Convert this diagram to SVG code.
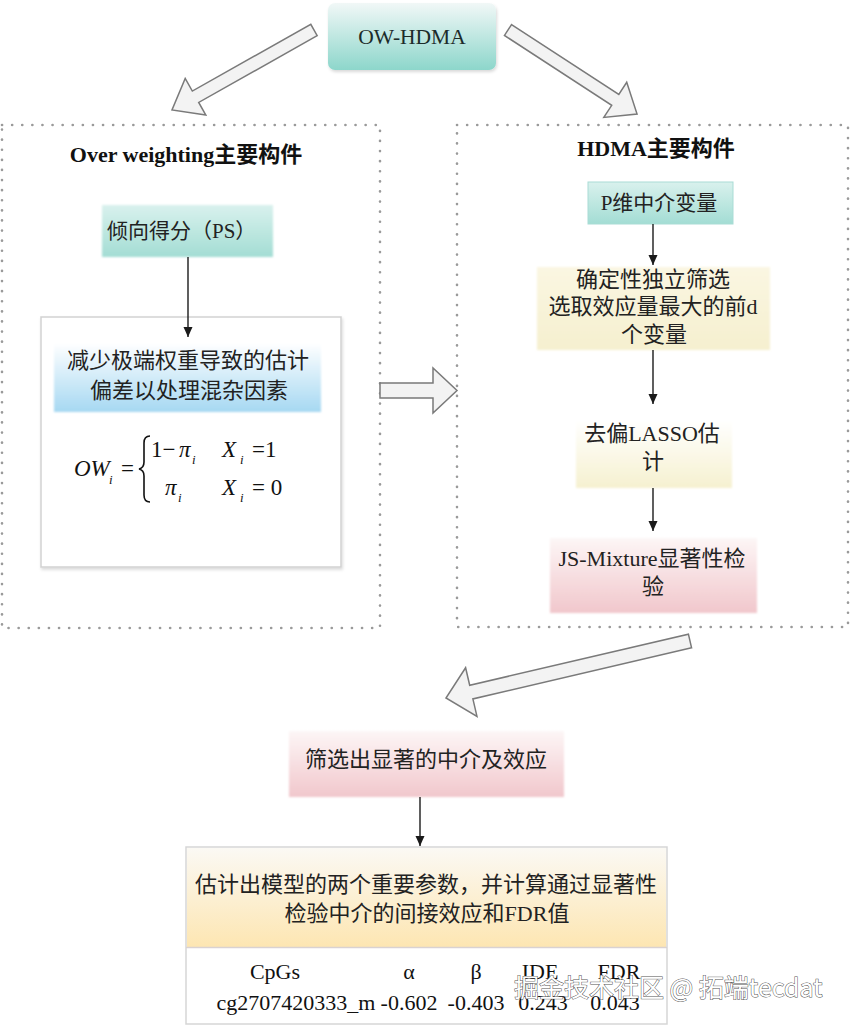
<svg xmlns="http://www.w3.org/2000/svg" width="851" height="1028" viewBox="0 0 851 1028">
  <defs>
    <linearGradient id="gTealTop" x1="0" y1="0" x2="0" y2="1">
      <stop offset="0" stop-color="#f1f8f7"/>
      <stop offset="1" stop-color="#8dd6cb"/>
    </linearGradient>
    <linearGradient id="gTeal" x1="0" y1="0" x2="0" y2="1">
      <stop offset="0" stop-color="#d9f1ed"/>
      <stop offset="1" stop-color="#a3ddd4"/>
    </linearGradient>
    <linearGradient id="gBlue" x1="0" y1="0" x2="0" y2="1">
      <stop offset="0" stop-color="#ffffff"/>
      <stop offset="1" stop-color="#a6d8f2"/>
    </linearGradient>
    <linearGradient id="gYellow" x1="0" y1="0" x2="0" y2="1">
      <stop offset="0" stop-color="#faf6e2"/>
      <stop offset="1" stop-color="#f6f0cf"/>
    </linearGradient>
    <linearGradient id="gYellow2" x1="0" y1="0" x2="0" y2="1">
      <stop offset="0" stop-color="#ffffff"/>
      <stop offset="1" stop-color="#f6f1d0"/>
    </linearGradient>
    <linearGradient id="gPink" x1="0" y1="0" x2="0" y2="1">
      <stop offset="0" stop-color="#fdf6f6"/>
      <stop offset="1" stop-color="#f1c7cc"/>
    </linearGradient>
    <linearGradient id="gOrange" x1="0" y1="0" x2="0" y2="1">
      <stop offset="0" stop-color="#fbf9f4"/>
      <stop offset="1" stop-color="#fde6b2"/>
    </linearGradient>
    <filter id="soft" x="-5%" y="-10%" width="110%" height="120%">
      <feGaussianBlur stdDeviation="1.2"/>
    </filter>
    <filter id="shadow" x="-5%" y="-10%" width="115%" height="125%">
      <feDropShadow dx="1" dy="2" stdDeviation="1.5" flood-color="#000" flood-opacity="0.15"/>
    </filter>
    <marker id="ah" viewBox="0 0 10 10" refX="10" refY="5" markerWidth="10" markerHeight="10" markerUnits="userSpaceOnUse" orient="auto">
      <path d="M0,0.5 L10,5 L0,9.5 Z" fill="#1a1a1a"/>
    </marker>
    <style>
      .cn { font-family: "Liberation Serif", "Noto Sans CJK SC", sans-serif; fill: #222; }
      .t22 { font-size: 22px; }
      .title { font-family: "Liberation Serif", "Noto Sans CJK SC", serif; font-weight: bold; font-size: 22px; fill: #111; }
      .math { font-family: "Liberation Serif", serif; font-size: 23px; fill: #111; }
      .it { font-style: italic; }
      .sub { font-family: "Liberation Serif", serif; font-style: italic; font-size: 13px; fill: #111; }
      .dotted { fill: none; stroke: #9a9a9a; stroke-width: 2.6; stroke-dasharray: 0.1 10; stroke-linecap: round; }
      .hollow { fill: #f3f3f3; stroke: #7a7a7a; stroke-width: 1.5; stroke-linejoin: miter; }
      .conn { fill: none; stroke: #1a1a1a; stroke-width: 1.4; }
      .tbl { font-family: "Liberation Serif", serif; font-size: 22px; fill: #111; }
      .wm { font-family: "Noto Sans CJK SC", "Noto Sans", sans-serif; font-size: 25px; fill: #ffffff; stroke: #555; stroke-width: 1; paint-order: stroke; }
    </style>
  </defs>

  <rect width="851" height="1028" fill="#ffffff"/>

  <!-- containers -->
  <g id="group-ow">
    <rect class="dotted" x="2" y="125" width="378" height="503"/>
    <text class="title" x="186" y="162" text-anchor="middle">Over weighting主要构件</text>
  </g>
  <g id="group-hdma">
    <rect class="dotted" x="457" y="125" width="391" height="502"/>
    <text class="title" x="656" y="156" text-anchor="middle">HDMA主要构件</text>
  </g>

  <!-- nodes -->
  <g id="node-owhdma">
    <rect x="328" y="3" width="168" height="67" rx="7" fill="url(#gTealTop)" filter="url(#shadow)"/>
    <text x="412" y="44" text-anchor="middle" font-family="Liberation Serif, serif" font-size="21.5" fill="#1c2b2a">OW-HDMA</text>
  </g>

  <g id="node-ps">
    <rect x="102" y="205" width="171" height="52" fill="url(#gTeal)" filter="url(#soft)"/>
    <text class="cn" x="107" y="238" font-size="21">倾向得分（PS）</text>
  </g>

  <g id="node-ow-box">
    <rect x="41" y="317" width="300" height="250" fill="#ffffff" stroke="#d2d2d2" stroke-width="1.5" filter="url(#shadow)"/>
    <rect x="54" y="343" width="267" height="69" fill="url(#gBlue)" filter="url(#soft)"/>
    <text class="cn t22" x="188" y="368" text-anchor="middle">减少极端权重导致的估计</text>
    <text class="cn t22" x="189" y="398" text-anchor="middle">偏差以处理混杂因素</text>
    <!-- formula -->
    <text class="math it" x="74" y="476">OW</text>
    <text class="sub" x="109" y="484">i</text>
    <text class="math" x="121" y="476">=</text>
    <path d="M150,436 Q144,436 144,443 L144,462 Q144,468 139,469 Q144,470 144,476 L144,495 Q144,502 150,502" fill="none" stroke="#111" stroke-width="1.6"/>
    <text class="math" x="151" y="457">1−</text>
    <text class="math it" x="179" y="457">π</text>
    <text class="sub" x="192" y="464">i</text>
    <text class="math it" x="222" y="457">X</text>
    <text class="sub" x="240" y="464">i</text>
    <text class="math" x="252" y="457">=1</text>
    <text class="math it" x="165" y="495">π</text>
    <text class="sub" x="178" y="502">i</text>
    <text class="math it" x="222" y="495">X</text>
    <text class="sub" x="240" y="502">i</text>
    <text class="math" x="252" y="495">= 0</text>
  </g>

  <g id="node-p">
    <rect x="588" y="182" width="145" height="42" fill="url(#gTeal)" stroke="#a9dcd5" stroke-width="1"/>
    <text class="cn" x="659" y="210" font-size="21" text-anchor="middle">P维中介变量</text>
  </g>

  <g id="node-sis">
    <rect x="537" y="267" width="233" height="83" fill="url(#gYellow)" filter="url(#soft)"/>
    <text class="cn t22" x="653" y="287" text-anchor="middle">确定性独立筛选</text>
    <text class="cn t22" x="653" y="314" text-anchor="middle">选取效应量最大的前d</text>
    <text class="cn t22" x="654" y="342" text-anchor="middle">个变量</text>
  </g>

  <g id="node-lasso">
    <rect x="576" y="420" width="156" height="68" fill="url(#gYellow2)" filter="url(#soft)"/>
    <text class="cn t22" x="652" y="441" text-anchor="middle">去偏LASSO估</text>
    <text class="cn t22" x="653" y="469" text-anchor="middle">计</text>
  </g>

  <g id="node-js">
    <rect x="550" y="538" width="207" height="75" fill="url(#gPink)" filter="url(#soft)"/>
    <text class="cn t22" x="652" y="566" text-anchor="middle">JS-Mixture显著性检</text>
    <text class="cn t22" x="653" y="594" text-anchor="middle">验</text>
  </g>

  <g id="node-screen">
    <rect x="289" y="731" width="275" height="66" fill="url(#gPink)" filter="url(#soft)"/>
    <text class="cn t22" x="426" y="767" text-anchor="middle">筛选出显著的中介及效应</text>
  </g>

  <g id="node-result">
    <rect x="186" y="847" width="481" height="177" fill="#ffffff" stroke="#d6d6d6" stroke-width="1.5"/>
    <rect x="187" y="848" width="479" height="99" fill="url(#gOrange)"/>
    <line x1="186" y1="947.5" x2="667" y2="947.5" stroke="#d9d2d2" stroke-width="1.5"/>
    <text class="cn t22" x="426" y="892" text-anchor="middle">估计出模型的两个重要参数，并计算通过显著性</text>
    <text class="cn t22" x="427" y="921" text-anchor="middle">检验中介的间接效应和FDR值</text>
    <text class="tbl" x="275" y="979" text-anchor="middle">CpGs</text>
    <text class="tbl" x="409" y="979" text-anchor="middle">α</text>
    <text class="tbl" x="476" y="979" text-anchor="middle">β</text>
    <text class="tbl" x="540" y="979" text-anchor="middle">IDE</text>
    <text class="tbl" x="619" y="979" text-anchor="middle">FDR</text>
    <text class="tbl" x="296" y="1010" text-anchor="middle">cg2707420333_m</text>
    <text class="tbl" x="409" y="1010" text-anchor="middle">-0.602</text>
    <text class="tbl" x="476" y="1010" text-anchor="middle">-0.403</text>
    <text class="tbl" x="543" y="1010" text-anchor="middle">0.243</text>
    <text class="tbl" x="615" y="1010" text-anchor="middle">0.043</text>
  </g>

  <!-- connectors -->
  <g id="connectors">
    <polygon class="hollow" transform="translate(314,30) rotate(150.6)" points="0,-6.5 136,-6.5 136,-21 163,0 136,21 136,6.5 0,6.5"/>
    <polygon class="hollow" transform="translate(508,30) rotate(33.07)" points="0,-6.5 128,-6.5 128,-21 154,0 128,21 128,6.5 0,6.5"/>
    <polygon class="hollow" points="380,383 433,383 433,368 457,390.5 433,413 433,398 380,398"/>
    <polygon class="hollow" transform="translate(690,641) rotate(166.85)" points="0,-7 224.6,-7 224.6,-25 250.6,0 224.6,25 224.6,7 0,7"/>
    <line class="conn" x1="188" y1="257" x2="188" y2="337" marker-end="url(#ah)"/>
    <line class="conn" x1="653" y1="224" x2="653" y2="265" marker-end="url(#ah)"/>
    <line class="conn" x1="653" y1="350" x2="653" y2="404" marker-end="url(#ah)"/>
    <line class="conn" x1="653" y1="488" x2="653" y2="531" marker-end="url(#ah)"/>
    <line class="conn" x1="420" y1="797" x2="420" y2="846" marker-end="url(#ah)"/>
  </g>

  <!-- watermark -->
  <text class="wm" x="514" y="997">掘金技术社区 @ 拓端tecdat</text>
</svg>
